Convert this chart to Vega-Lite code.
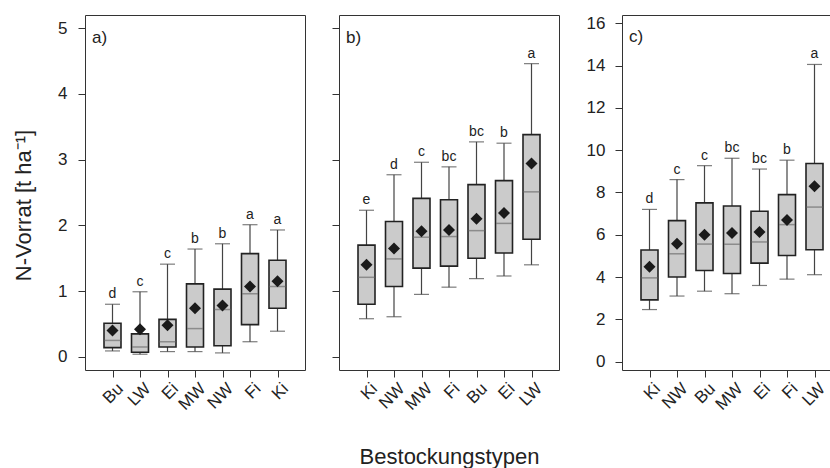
{
  "$schema": "https://vega.github.io/schema/vega-lite/v6.json",
  "padding": {"left": 12, "top": 13, "right": 0, "bottom": 0},
  "background": "white",
  "spacing": 25,
  "config": {
    "font": "Liberation Sans",
    "view": {"stroke": "#333333", "strokeWidth": 1},
    "axis": {"grid": false, "domain": false, "tickColor": "#333333", "tickSize": 7, "labelColor": "#222222", "titleColor": "#222222", "labelFontSize": 17, "titleFontSize": 21, "titleFontWeight": "normal", "labelFont": "Liberation Sans", "titleFont": "Liberation Sans"},
    "title": {"font": "Liberation Sans", "fontSize": 17, "fontWeight": "normal", "color": "#222222", "anchor": "start", "frame": "group"}
  },
  "datasets": {
    "a": [
      {"typ": "Bu", "min": 0.09, "q1": 0.14, "med": 0.25, "q3": 0.51, "max": 0.80, "mean": 0.40, "sig": "d"},
      {"typ": "LW", "min": 0.04, "q1": 0.07, "med": 0.15, "q3": 0.35, "max": 0.99, "mean": 0.42, "sig": "c"},
      {"typ": "Ei", "min": 0.08, "q1": 0.15, "med": 0.23, "q3": 0.57, "max": 1.41, "mean": 0.48, "sig": "c"},
      {"typ": "MW", "min": 0.08, "q1": 0.15, "med": 0.43, "q3": 1.11, "max": 1.64, "mean": 0.74, "sig": "b"},
      {"typ": "NW", "min": 0.06, "q1": 0.17, "med": 0.72, "q3": 1.03, "max": 1.72, "mean": 0.78, "sig": "b"},
      {"typ": "Fi", "min": 0.23, "q1": 0.49, "med": 0.96, "q3": 1.57, "max": 2.01, "mean": 1.07, "sig": "a"},
      {"typ": "Ki", "min": 0.39, "q1": 0.74, "med": 1.07, "q3": 1.47, "max": 1.93, "mean": 1.15, "sig": "a"}
    ],
    "b": [
      {"typ": "Ki", "min": 0.58, "q1": 0.80, "med": 1.21, "q3": 1.70, "max": 2.23, "mean": 1.40, "sig": "e"},
      {"typ": "NW", "min": 0.61, "q1": 1.07, "med": 1.49, "q3": 2.06, "max": 2.77, "mean": 1.65, "sig": "d"},
      {"typ": "MW", "min": 0.95, "q1": 1.35, "med": 1.82, "q3": 2.41, "max": 2.96, "mean": 1.91, "sig": "c"},
      {"typ": "Fi", "min": 1.06, "q1": 1.38, "med": 1.83, "q3": 2.39, "max": 2.89, "mean": 1.93, "sig": "bc"},
      {"typ": "Bu", "min": 1.19, "q1": 1.50, "med": 1.92, "q3": 2.62, "max": 3.27, "mean": 2.10, "sig": "bc"},
      {"typ": "Ei", "min": 1.23, "q1": 1.58, "med": 2.03, "q3": 2.68, "max": 3.25, "mean": 2.19, "sig": "b"},
      {"typ": "LW", "min": 1.40, "q1": 1.79, "med": 2.51, "q3": 3.38, "max": 4.46, "mean": 2.94, "sig": "a"}
    ],
    "c": [
      {"typ": "Ki", "min": 2.46, "q1": 2.92, "med": 3.96, "q3": 5.28, "max": 7.20, "mean": 4.49, "sig": "d"},
      {"typ": "NW", "min": 3.10, "q1": 4.00, "med": 5.10, "q3": 6.67, "max": 8.61, "mean": 5.58, "sig": "c"},
      {"typ": "Bu", "min": 3.33, "q1": 4.31, "med": 5.56, "q3": 7.51, "max": 9.27, "mean": 6.00, "sig": "c"},
      {"typ": "MW", "min": 3.21, "q1": 4.17, "med": 5.55, "q3": 7.36, "max": 9.62, "mean": 6.08, "sig": "bc"},
      {"typ": "Ei", "min": 3.60, "q1": 4.66, "med": 5.66, "q3": 7.11, "max": 9.11, "mean": 6.13, "sig": "bc"},
      {"typ": "Fi", "min": 3.90, "q1": 5.02, "med": 6.48, "q3": 7.90, "max": 9.53, "mean": 6.70, "sig": "b"},
      {"typ": "LW", "min": 4.11, "q1": 5.29, "med": 7.31, "q3": 9.37, "max": 14.06, "mean": 8.29, "sig": "a"}
    ]
  },
  "hconcat": [
    {
      "width": 220, "height": 355,
      "data": {"name": "a"},
      "title": {"text": "a)", "offset": -32, "dx": 7},
      "encoding": {
        "x": {"field": "typ", "type": "nominal", "sort": null, "scale": {"type": "point", "padding": 1}, "axis": {"title": null, "labelAngle": -45, "labelPadding": 3, "labelOffset": 2}}
      },
      "layer": [
        {"mark": {"type": "rule", "color": "#444444", "strokeWidth": 1.2}, "encoding": {"y": {"field": "min", "type": "quantitative", "scale": {"domain": [-0.2, 5.2], "nice": false, "zero": false}, "axis": {"title": "N-Vorrat [t ha⁻¹]", "values": [0, 1, 2, 3, 4, 5], "format": "d", "labelPadding": 11, "titlePadding": 22, "titleFontSize": 22, "titleY": 190}}, "y2": {"field": "max"}}},
        {"mark": {"type": "tick", "color": "#444444", "size": 15, "thickness": 1.2}, "encoding": {"y": {"field": "min", "type": "quantitative"}}},
        {"mark": {"type": "tick", "color": "#444444", "size": 15, "thickness": 1.2}, "encoding": {"y": {"field": "max", "type": "quantitative"}}},
        {"mark": {"type": "bar", "size": 17, "fill": "#cbcbcb", "stroke": "#222222", "strokeWidth": 1.6}, "encoding": {"y": {"field": "q1", "type": "quantitative"}, "y2": {"field": "q3"}}},
        {"mark": {"type": "tick", "color": "#707070", "size": 16, "thickness": 1.5}, "encoding": {"y": {"field": "med", "type": "quantitative"}}},
        {"mark": {"type": "point", "shape": "diamond", "filled": true, "size": 144, "color": "#1a1a1a", "opacity": 1}, "encoding": {"y": {"field": "mean", "type": "quantitative"}}},
        {"mark": {"type": "text", "baseline": "bottom", "dy": -3, "fontSize": 14, "color": "#222222"}, "encoding": {"y": {"field": "max", "type": "quantitative"}, "text": {"field": "sig"}}}
      ]
    },
    {
      "width": 220, "height": 355,
      "data": {"name": "b"},
      "title": {"text": "b)", "offset": -32, "dx": 7},
      "encoding": {
        "x": {"field": "typ", "type": "nominal", "sort": null, "scale": {"type": "point", "padding": 1}, "axis": {"title": "Bestockungstypen", "labelAngle": -45, "labelPadding": 3, "labelOffset": 2, "titlePadding": 34, "titleFontSize": 22}}
      },
      "layer": [
        {"mark": {"type": "rule", "color": "#444444", "strokeWidth": 1.2}, "encoding": {"y": {"field": "min", "type": "quantitative", "scale": {"domain": [-0.2, 5.2], "nice": false, "zero": false}, "axis": {"title": null, "values": [0, 1, 2, 3, 4, 5], "labels": false}}, "y2": {"field": "max"}}},
        {"mark": {"type": "tick", "color": "#444444", "size": 15, "thickness": 1.2}, "encoding": {"y": {"field": "min", "type": "quantitative"}}},
        {"mark": {"type": "tick", "color": "#444444", "size": 15, "thickness": 1.2}, "encoding": {"y": {"field": "max", "type": "quantitative"}}},
        {"mark": {"type": "bar", "size": 17, "fill": "#cbcbcb", "stroke": "#222222", "strokeWidth": 1.6}, "encoding": {"y": {"field": "q1", "type": "quantitative"}, "y2": {"field": "q3"}}},
        {"mark": {"type": "tick", "color": "#707070", "size": 16, "thickness": 1.5}, "encoding": {"y": {"field": "med", "type": "quantitative"}}},
        {"mark": {"type": "point", "shape": "diamond", "filled": true, "size": 144, "color": "#1a1a1a", "opacity": 1}, "encoding": {"y": {"field": "mean", "type": "quantitative"}}},
        {"mark": {"type": "text", "baseline": "bottom", "dy": -3, "fontSize": 14, "color": "#222222"}, "encoding": {"y": {"field": "max", "type": "quantitative"}, "text": {"field": "sig"}}}
      ]
    },
    {
      "width": 220, "height": 355,
      "data": {"name": "c"},
      "title": {"text": "c)", "offset": -32, "dx": 7},
      "encoding": {
        "x": {"field": "typ", "type": "nominal", "sort": null, "scale": {"type": "point", "padding": 1}, "axis": {"title": null, "labelAngle": -45, "labelPadding": 3, "labelOffset": 2}}
      },
      "layer": [
        {"mark": {"type": "rule", "color": "#444444", "strokeWidth": 1.2}, "encoding": {"y": {"field": "min", "type": "quantitative", "scale": {"domain": [-0.4, 16.4], "nice": false, "zero": false}, "axis": {"title": null, "values": [0, 2, 4, 6, 8, 10, 12, 14, 16], "format": "d", "labelPadding": 10}}, "y2": {"field": "max"}}},
        {"mark": {"type": "tick", "color": "#444444", "size": 15, "thickness": 1.2}, "encoding": {"y": {"field": "min", "type": "quantitative"}}},
        {"mark": {"type": "tick", "color": "#444444", "size": 15, "thickness": 1.2}, "encoding": {"y": {"field": "max", "type": "quantitative"}}},
        {"mark": {"type": "bar", "size": 17, "fill": "#cbcbcb", "stroke": "#222222", "strokeWidth": 1.6}, "encoding": {"y": {"field": "q1", "type": "quantitative"}, "y2": {"field": "q3"}}},
        {"mark": {"type": "tick", "color": "#707070", "size": 16, "thickness": 1.5}, "encoding": {"y": {"field": "med", "type": "quantitative"}}},
        {"mark": {"type": "point", "shape": "diamond", "filled": true, "size": 144, "color": "#1a1a1a", "opacity": 1}, "encoding": {"y": {"field": "mean", "type": "quantitative"}}},
        {"mark": {"type": "text", "baseline": "bottom", "dy": -3, "fontSize": 14, "color": "#222222"}, "encoding": {"y": {"field": "max", "type": "quantitative"}, "text": {"field": "sig"}}}
      ]
    }
  ]
}
